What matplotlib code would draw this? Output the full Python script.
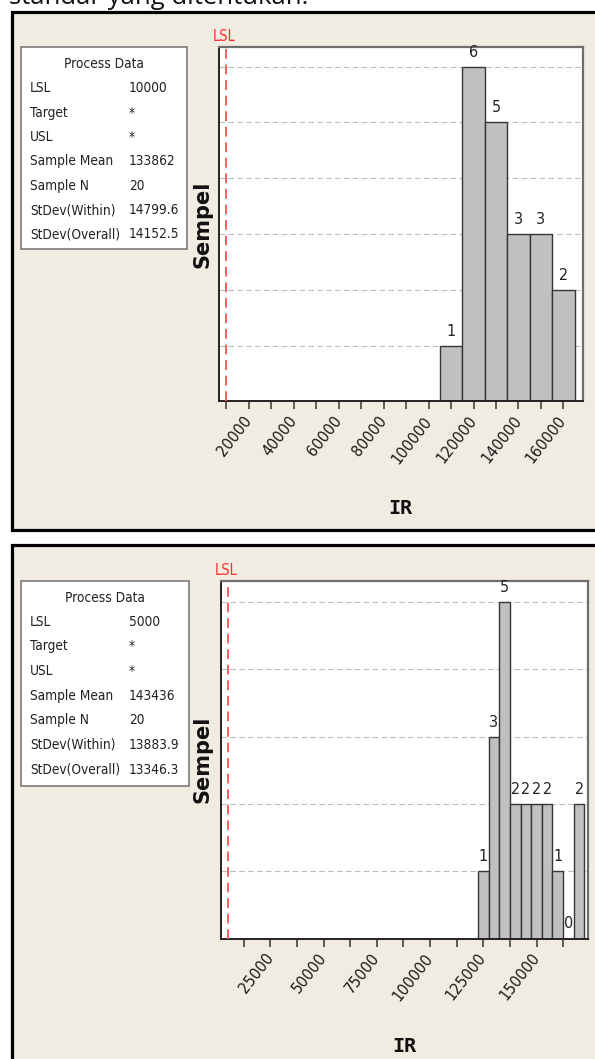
import numpy as np
import matplotlib
matplotlib.use("Agg")
import matplotlib.pyplot as plt
import matplotlib.ticker as ticker
from matplotlib.patches import Rectangle

W, H = 595, 1059   # output size in px
DPI = 100

# ---- data: panel 1 (LSL 10000)
bins1 = [110000, 120000, 130000, 140000, 150000, 160000]
counts1 = [1, 6, 5, 3, 3, 2]
binw1 = 10000
lsl1 = 10000
major1 = [20000, 40000, 60000, 80000, 100000, 120000, 140000, 160000]
stats1 = ["10000", "*", "*", "133862", "20", "14799.6", "14152.5"]

# ---- data: panel 2 (LSL 5000)
bins2 = [125000, 130000, 135000, 140000, 145000, 150000, 155000, 160000, 165000, 170000]
counts2 = [1, 3, 5, 2, 2, 2, 2, 1, 0, 2]
binw2 = 5000
lsl2 = 5000
major2 = [25000, 50000, 75000, 100000, 125000, 150000]
stats2 = ["5000", "*", "*", "143436", "20", "13883.9", "13346.3"]

row_names = ["LSL", "Target", "USL", "Sample Mean", "Sample N",
             "StDev(Within)", "StDev(Overall)"]

# Tahoma look-alike: condensed DejaVu
NARROW = dict(family='DejaVu Sans', fontstretch='condensed')
BEIGE = '#f0ece2'


def fx(x):
    return x / W


def fy(y):
    return 1 - y / H


fig = plt.figure(figsize=(W / DPI, H / DPI), dpi=DPI)
fig.patch.set_facecolor('white')

# caption line cut off at the top
fig.text(fx(9), fy(4), "standar yang ditentukan.", fontsize=18.5,
         family=['Open Sans', 'DejaVu Sans'], va='baseline', ha='left', color='#111111')


def panel(top, bottom, box, title_y, row_y0, row_dy, plot, xlim, ylim,
          bins, counts, binw, lsl, majors, minor_step, stats, ir_y):
    # panel background with thick black frame
    fig.patches.append(Rectangle((fx(11.5), fy(bottom)), fx(620), (bottom - top) / H,
                                 transform=fig.transFigure, facecolor=BEIGE,
                                 edgecolor='black', lw=2.3, zorder=-2))
    # process data box
    bx0, by0, bx1, by1 = box
    fig.patches.append(Rectangle((fx(bx0), fy(by1)), (bx1 - bx0) / W, (by1 - by0) / H,
                                 transform=fig.transFigure, facecolor='white',
                                 edgecolor='#7a7a7a', lw=1.2, zorder=-1))
    fig.text(fx((bx0 + bx1) / 2), fy(title_y), "Process Data", ha='center', va='baseline',
             fontsize=9.8, color='#222222', **NARROW)
    for i, (name, val) in enumerate(zip(row_names, stats)):
        yy = row_y0 + i * row_dy
        fig.text(fx(bx0 + 9), fy(yy), name, ha='left', va='baseline',
                 fontsize=9.8, color='#222222', **NARROW)
        fig.text(fx(bx0 + 108), fy(yy), val, ha='left', va='baseline',
                 fontsize=9.8, color='#222222', **NARROW)

    x0, y0, x1, y1 = plot
    ax = fig.add_axes([fx(x0), fy(y1), (x1 - x0) / W, (y1 - y0) / H])
    ax.set_facecolor('white')
    ax.bar(bins, counts, width=binw, color='#c0c0c0', edgecolor='#363636',
           linewidth=1.0, zorder=2)
    ax.set_xlim(xlim)
    ax.set_ylim(ylim)

    ax.set_yticks(range(1, int(ylim[1]) + 1))
    ax.tick_params(axis='y', length=0, labelleft=False)
    ax.yaxis.grid(True, color='#bdbdbd', linestyle=(0, (5, 3)), linewidth=0.8)
    ax.set_axisbelow(True)

    ax.set_xticks(majors)
    ax.set_xticklabels([str(m) for m in majors])
    ax.xaxis.set_minor_locator(ticker.MultipleLocator(minor_step))
    ax.tick_params(axis='x', which='both', direction='out', length=6, width=1.1,
                   color='#333333', pad=6)
    for lab in ax.get_xticklabels():
        lab.set_rotation(52)
        lab.set_ha('right')
        lab.set_va('center')
        lab.set_rotation_mode('anchor')
        lab.set_fontsize(11.5)
        lab.set_fontstretch('condensed')
        lab.set_color('#1a1a1a')

    for s in ['left', 'bottom']:
        ax.spines[s].set_color('#222222')
        ax.spines[s].set_linewidth(1.4)
    for s in ['top', 'right']:
        ax.spines[s].set_color('#6e6e6e')
        ax.spines[s].set_linewidth(1.6)

    # LSL reference line
    ax.axvline(lsl, color='#ff5c5c', linestyle=(0, (5, 3)), linewidth=1.4, zorder=3)
    ax.annotate("LSL", xy=(lsl, 1), xycoords=('data', 'axes fraction'),
                xytext=(-2, 6), textcoords='offset pixels', ha='center', va='baseline',
                fontsize=10.5, color='#ff3030', annotation_clip=False, **NARROW)

    # counts above bars
    for b, c in zip(bins, counts):
        ax.annotate(str(c), xy=(b, c), xytext=(0, 10), textcoords='offset pixels',
                    ha='center', va='baseline', fontsize=11.5, color='#222222', **NARROW)

    fig.text(fx(202), fy((y0 + y1) / 2), "Sempel", rotation=90, ha='center', va='center',
             fontsize=15, fontweight='bold', color='#111111')
    fig.text(fx((x0 + x1) / 2), fy(ir_y), "IR", ha='center', va='center',
             fontsize=14.5, fontweight='bold', family=['DejaVu Sans Mono'], color='#111111')
    return ax


panel(11.5, 530, (21, 47, 187, 249), 68.5, 92.5, 24.33,
      (219, 47, 582.5, 401.5), (6661, 168510), (0, 6.35),
      bins1, counts1, binw1, lsl1, major1, 10000, stats1, 509)

panel(545, 1075, (21, 581, 189, 786), 602, 625.5, 24.67,
      (220.7, 581, 587.7, 938.5), (1709, 174042), (0, 5.31),
      bins2, counts2, binw2, lsl2, major2, 12500, stats2, 1047)

fig.savefig("out.png", dpi=DPI)
